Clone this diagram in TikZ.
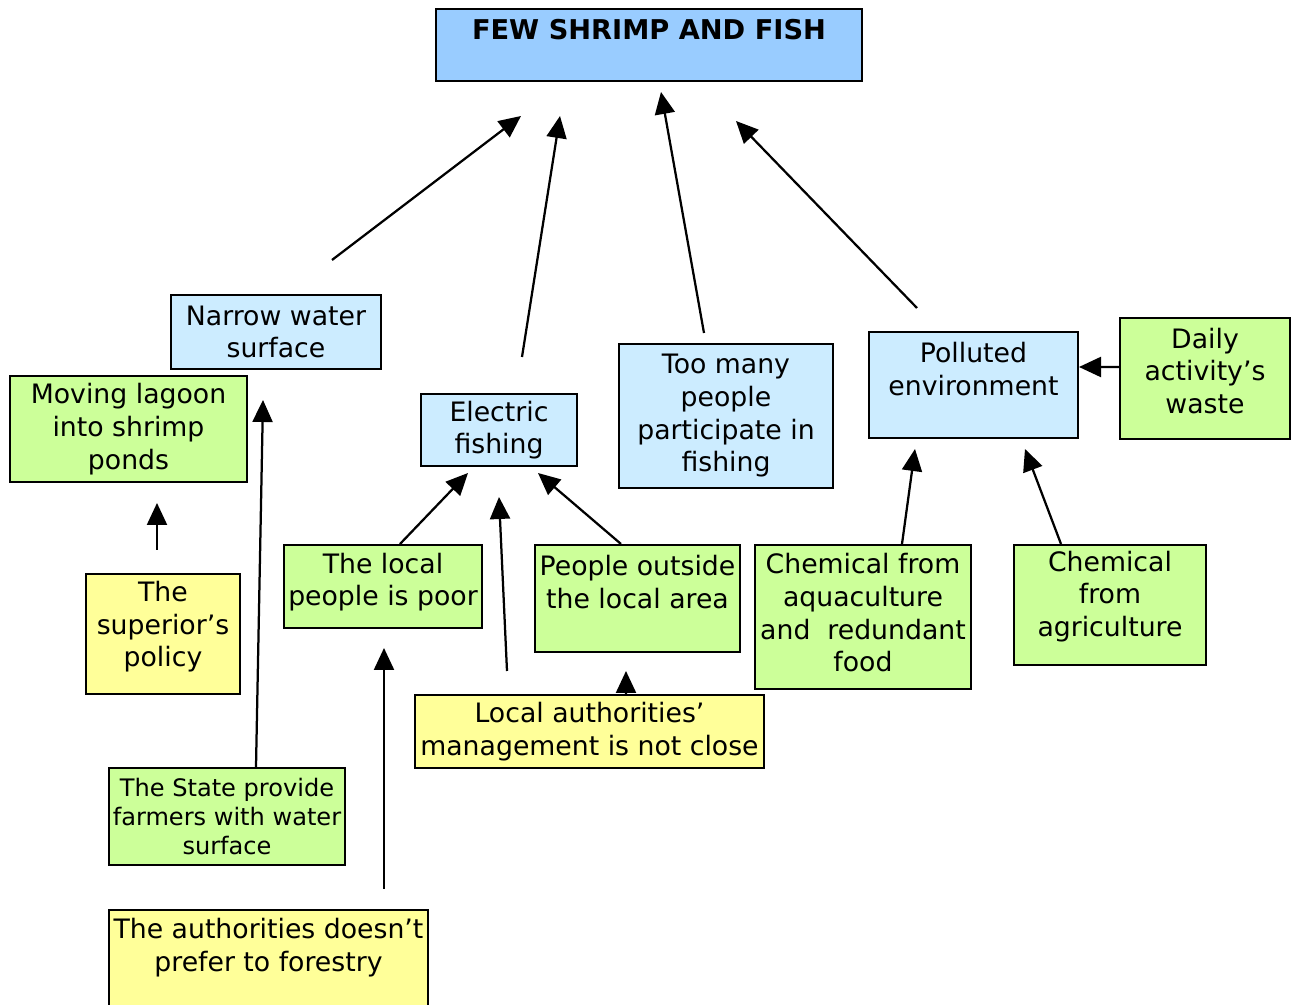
\documentclass[tikz,border=0pt]{standalone}
\usepackage{fontspec}
\setmainfont{DejaVu Sans}
\usetikzlibrary{arrows.meta}

\definecolor{topblue}{HTML}{99CCFF}
\definecolor{paleblue}{HTML}{CCECFF}
\definecolor{palegreen}{HTML}{CCFF99}
\definecolor{paleyellow}{HTML}{FFFF99}

\tikzset{
  box/.style={draw, line width=0.4mm, align=center, inner sep=0pt,
    font=\fontsize{15.2}{18.6}\selectfont},
  effect/.style={box, fill=paleblue},
  cause/.style={box, fill=palegreen},
  root/.style={box, fill=paleyellow},
  arr/.style={line width=0.45mm, -{Triangle[length=4.4mm,width=4mm]}}
}

\begin{document}
\begin{tikzpicture}[x=0.2mm, y=-0.2mm]
\useasboundingbox (0,0) rectangle (1297,1005);

% problem
\node [box, fill=topblue, minimum width=85.2mm, minimum height=14.4mm,
    font=\bfseries\fontsize{15.5}{18}\selectfont] (title) at (649,45)
    {FEW SHRIMP AND FISH\\ \mbox{}};

% direct causes
\node [effect, minimum width=42mm, minimum height=14.8mm] (narrow) at (276,332)
    {Narrow water\\surface};
\node [effect, minimum width=31.2mm, minimum height=14.4mm] (electric) at (499,430)
    {Electric\\fishing};
\node [effect, minimum width=42.8mm, minimum height=28.8mm] (toomany) at (726,416)
    {Too many\\people\\participate in\\fishing};
\node [effect, minimum width=41.8mm, minimum height=21.2mm] (polluted) at (973.5,385)
    {Polluted\\environment\\ \mbox{}};

% second level
\node [cause, minimum width=47.4mm, minimum height=21.2mm] (moving) at (128.5,429)
    {Moving lagoon\\into shrimp\\ponds};
\node [cause, minimum width=34mm, minimum height=24.2mm, text depth=9pt] (daily)
    at (1205,378.5) {Daily\\activity’s\\waste};
\node [cause, minimum width=39.6mm, minimum height=16.6mm, text depth=8pt] (poor)
    at (383,586.5) {The local\\people is poor};
\node [cause, minimum width=41mm, minimum height=21.4mm] (outside) at (637.5,598.5)
    {People outside\\the local area\\ \mbox{}};
\node [cause, minimum width=43.2mm, minimum height=28.8mm, text depth=4.8pt] (aquac)
    at (863,617) {Chemical from\\aquaculture\\and\ \ redundant\\food};
\node [cause, minimum width=38.4mm, minimum height=24mm, text depth=13pt] (agric)
    at (1110,605) {Chemical\\from\\agriculture};
\node [cause, minimum width=47.2mm, minimum height=19.4mm,
    font=\fontsize{13.7}{16.4}\selectfont] (state) at (227,816.5)
    {The State provide\\farmers with water\\surface};

% root causes
\node [root, minimum width=30.8mm, minimum height=24mm, text depth=11.5pt] (superior)
    at (163,634) {The\\superior’s\\policy};
\node [root, minimum width=69.8mm, minimum height=14.6mm] (localauth) at (589.5,731.5)
    {Local authorities’\\management is not close};
\node [root, minimum width=63.8mm, minimum height=20.4mm] (forestry) at (268.5,961)
    {The authorities doesn’t\\prefer to forestry\\ \mbox{}};

% loose arrow ends
\coordinate (n1) at (332,260);  \coordinate (t1) at (521,116);
\coordinate (e1) at (522,357);  \coordinate (t2) at (560,116);
\coordinate (m1) at (704,333);  \coordinate (t3) at (661,92);
\coordinate (p1) at (917,308);  \coordinate (t4) at (736,121);
\coordinate (s1) at (157,550);  \coordinate (s2) at (157,503);
\coordinate (w1) at (263,400);
\coordinate (f1) at (468,473);  \coordinate (f2) at (538,473);
\coordinate (l1) at (507,671);  \coordinate (f3) at (499,497);
\coordinate (l2) at (626,671);
\coordinate (r1) at (384,889);  \coordinate (r2) at (384,648);
\coordinate (c1) at (915,449);  \coordinate (c2) at (1025,449);

% arrows
\draw [arr] (n1) -- (t1);
\draw [arr] (e1) -- (t2);
\draw [arr] (m1) -- (t3);
\draw [arr] (p1) -- (t4);
\draw [arr] (s1) -- (s2);
\draw [arr] ([xshift=5.8mm]state.north) -- (w1);
\draw [arr] ([xshift=3.4mm]poor.north) -- (f1);
\draw [arr] ([xshift=-3.3mm]outside.north) -- (f2);
\draw [arr] (l1) -- (f3);
\draw [arr] ([xshift=7.3mm]localauth.north) -- (l2);
\draw [arr] (r1) -- (r2);
\draw [arr] ([xshift=7.8mm]aquac.north) -- (c1);
\draw [arr] ([xshift=-9.8mm]agric.north) -- (c2);
\draw [arr] ([yshift=2.3mm]daily.west) -- ([yshift=3.6mm]polluted.east);

\end{tikzpicture}
\end{document}
